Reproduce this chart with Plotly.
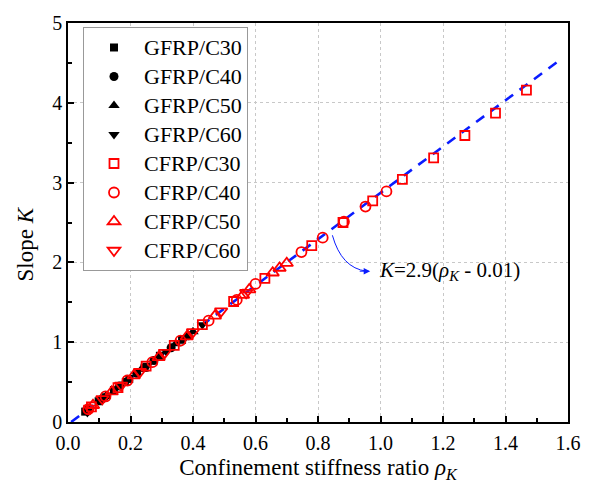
import plotly.graph_objects as go

# Confinement stiffness ratio rho_K and fitted slope K for each specimen group
gfrp_c30_rho = [0.055, 0.098, 0.147, 0.196, 0.245, 0.294, 0.365]
gfrp_c30_k = [0.13, 0.26, 0.40, 0.54, 0.68, 0.83, 1.03]
gfrp_c40_rho = [0.060, 0.110, 0.165, 0.220, 0.275, 0.330, 0.385]
gfrp_c40_k = [0.15, 0.29, 0.45, 0.61, 0.77, 0.93, 1.08]
gfrp_c50_rho = [0.065, 0.120, 0.180, 0.235, 0.290, 0.345, 0.400]
gfrp_c50_k = [0.16, 0.32, 0.49, 0.66, 0.82, 0.98, 1.13]
gfrp_c60_rho = [0.062, 0.125, 0.190, 0.255, 0.315, 0.375, 0.430]
gfrp_c60_k = [0.12, 0.33, 0.52, 0.71, 0.88, 1.06, 1.22]

cfrp_c30_rho = [0.075, 0.16, 0.25, 0.34, 0.43, 0.53, 0.63, 0.78, 0.88, 0.975, 1.07, 1.17, 1.27, 1.368, 1.467]
cfrp_c30_k = [0.19, 0.43, 0.70, 0.96, 1.22, 1.51, 1.80, 2.21, 2.50, 2.77, 3.04, 3.31, 3.59, 3.87, 4.16]
cfrp_c40_rho = [0.065, 0.12, 0.19, 0.27, 0.36, 0.45, 0.54, 0.60, 0.747, 0.815, 0.883, 0.952, 1.019]
cfrp_c40_k = [0.16, 0.32, 0.52, 0.75, 1.02, 1.27, 1.53, 1.73, 2.13, 2.31, 2.51, 2.70, 2.89]
cfrp_c50_rho = [0.08, 0.14, 0.21, 0.29, 0.38, 0.47, 0.56, 0.58, 0.655, 0.677, 0.70]
cfrp_c50_k = [0.21, 0.38, 0.58, 0.81, 1.07, 1.33, 1.59, 1.66, 1.87, 1.93, 1.99]
cfrp_c60_rho = [0.07, 0.11, 0.17, 0.23, 0.31, 0.40, 0.49, 0.57]
cfrp_c60_k = [0.17, 0.29, 0.46, 0.63, 0.87, 1.13, 1.39, 1.62]

# Fitted line K = 2.9 (rho_K - 0.01)
fit_rho = [0.01, 1.57]
fit_k = [2.9 * (r - 0.01) for r in fit_rho]

SERIF = "Liberation Serif, Times New Roman, serif"
RED = "#ff0000"
BLUE = "#0a1cff"

fig = go.Figure()

fig.add_trace(go.Scatter(
    x=fit_rho, y=fit_k, mode="lines", showlegend=False,
    line=dict(color=BLUE, width=2.6, dash="10px,8px"),
))

groups = [
    ("GFRP/C30", gfrp_c30_rho, gfrp_c30_k, "square", "black", 8),
    ("GFRP/C40", gfrp_c40_rho, gfrp_c40_k, "circle", "black", 9),
    ("GFRP/C50", gfrp_c50_rho, gfrp_c50_k, "triangle-up", "black", 10),
    ("GFRP/C60", gfrp_c60_rho, gfrp_c60_k, "triangle-down", "black", 10),
    ("CFRP/C30", cfrp_c30_rho, cfrp_c30_k, "square-open", RED, 9),
    ("CFRP/C40", cfrp_c40_rho, cfrp_c40_k, "circle-open", RED, 10),
    ("CFRP/C50", cfrp_c50_rho, cfrp_c50_k, "triangle-up-open", RED, 11),
    ("CFRP/C60", cfrp_c60_rho, cfrp_c60_k, "triangle-down-open", RED, 11),
]
for name, xs, ys, sym, col, size in groups:
    fig.add_trace(go.Scatter(
        x=xs, y=ys, mode="markers",
        name=f"<span style='font-size:22px'>{name}</span>",
        marker=dict(symbol=sym, color=col, size=size,
                    line=dict(color=col, width=1.8 if col == RED else 0)),
    ))

# Curved pointer from the fit line to its equation
fig.add_shape(
    type="path", xref="x", yref="y",
    path="M 0.846 2.34 Q 0.875 1.93 0.955 1.89",
    line=dict(color=BLUE, width=1),
)
fig.add_annotation(
    x=0.967, y=1.89, ax=-12, ay=0, axref="pixel", ayref="pixel",
    text="", showarrow=True, arrowhead=2, arrowsize=1.3, arrowwidth=1,
    arrowcolor=BLUE,
)
fig.add_annotation(
    x=0.99, y=1.89, xanchor="left", yanchor="middle", showarrow=False,
    text="<i>K</i>=2.9(<i>ρ</i><sub><i>K</i></sub> - 0.01)",
    font=dict(family=SERIF, size=21, color="black"),
)

# Vertical axis title
fig.add_annotation(
    xref="paper", yref="paper", x=-0.086, y=0.445,
    xanchor="center", yanchor="middle", textangle=-90, showarrow=False,
    text="Slope <i>K</i>",
    font=dict(family=SERIF, size=23, color="black"),
)

axis_common = dict(
    showline=True, linecolor="black", linewidth=1.6, mirror=True,
    ticks="inside", ticklen=6, tickwidth=1.5, tickcolor="black",
    showgrid=True, gridcolor="#c8c8c8", gridwidth=1, griddash="dot",
    zeroline=False,
    tickfont=dict(family=SERIF, size=20, color="black"),
)
fig.update_xaxes(
    range=[0, 1.6], dtick=0.2, tickformat=".1f", ticklabelstandoff=2,
    minor=dict(dtick=0.1, ticks="inside", ticklen=4, tickwidth=1.5, tickcolor="black", showgrid=False),
    title=dict(text="Confinement stiffness ratio <i>ρ</i><sub><i>K</i></sub>",
               font=dict(family=SERIF, size=23, color="black"), standoff=6),
    **axis_common,
)
fig.update_yaxes(
    range=[0, 5], dtick=1,
    minor=dict(dtick=0.5, ticks="inside", ticklen=4, tickwidth=1.5, tickcolor="black", showgrid=False),
    **axis_common,
)

fig.update_layout(
    width=594, height=500,
    margin=dict(l=68, r=26, t=16, b=78),
    paper_bgcolor="white", plot_bgcolor="white",
    font=dict(family=SERIF, color="black"),
    legend=dict(
        x=0.03, y=0.99, xanchor="left", yanchor="top",
        bgcolor="white", bordercolor="#999999", borderwidth=1,
        font=dict(family=SERIF, size=20, color="black"),
        itemwidth=50,
    ),
)

fig.write_html("out.html")
